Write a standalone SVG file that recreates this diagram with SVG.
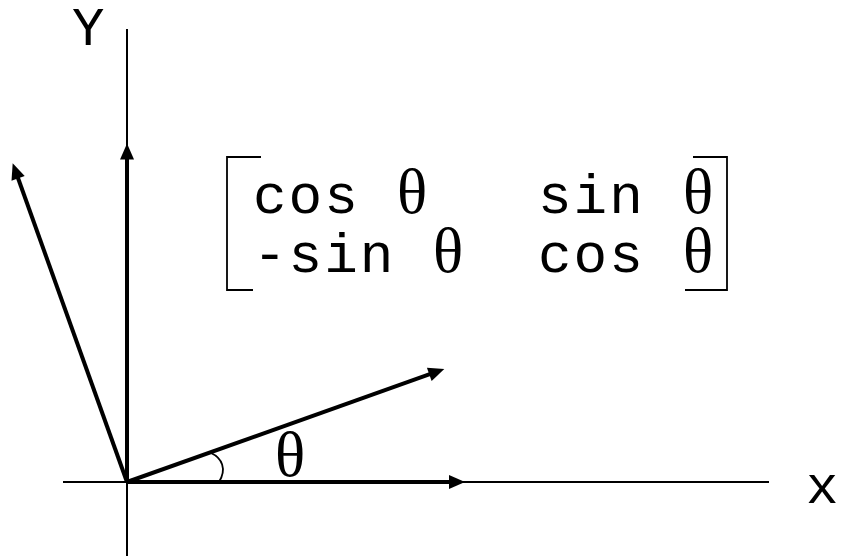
<svg xmlns="http://www.w3.org/2000/svg" width="843" height="556" viewBox="0 0 843 556">
  <style>
    .axis { stroke: #000; stroke-width: 2; fill: none; }
    .vec { stroke: #000; stroke-width: 4; fill: none; marker-end: url(#arrow); }
    .thin { stroke: #000; stroke-width: 1.8; fill: none; }
    .mono { font-family: "Liberation Mono", "Courier New", monospace; font-size: 56px; letter-spacing: 2px; fill: #000; }
    .lbl { font-family: "Liberation Mono", "Courier New", monospace; font-size: 54px; fill: #000; }
    .th { font-family: "Liberation Serif", "Times New Roman", serif; font-size: 63px; fill: #000; }
  </style>
  <defs>
    <marker id="arrow" markerUnits="userSpaceOnUse" markerWidth="16" markerHeight="14" refX="8" refY="7" orient="auto" overflow="visible">
      <path d="M0,0 L16,7 L0,14 Z" fill="#000"/>
    </marker>
  </defs>
  <rect width="843" height="556" fill="#fff"/>

  <g id="axes">
    <line class="axis" x1="127" y1="29" x2="127" y2="556"/>
    <line class="axis" x1="63" y1="482" x2="769" y2="482"/>
  </g>

  <g id="connectors">
    <line class="vec" x1="127" y1="482" x2="127" y2="151.5"/>
    <line class="vec" x1="127" y1="482" x2="457" y2="482"/>
    <line class="vec" x1="127" y1="482" x2="436.8" y2="371.7"/>
    <line class="vec" x1="127" y1="482" x2="15.4" y2="170.8"/>
    <path class="thin" d="M211,453 C222,458 227,469 219,482"/>
  </g>

  <g id="label-y"><text class="lbl" x="72" y="45">Y</text></g>
  <g id="label-x"><text class="lbl" x="806" y="503">x</text></g>
  <g id="label-theta"><text class="th" x="275" y="476">θ</text></g>

  <g id="matrix">
    <path class="thin" d="M261,157 L227,157 L227,290 L253,290"/>
    <path class="thin" d="M693,157 L727,157 L727,290 L685,290"/>
    <text class="mono" x="253" y="213">cos</text>
    <text class="th" x="397" y="213">θ</text>
    <text class="mono" x="538" y="213">sin</text>
    <text class="th" x="683" y="213">θ</text>
    <text class="mono" x="253" y="272">-sin</text>
    <text class="th" x="433" y="272">θ</text>
    <text class="mono" x="538" y="272">cos</text>
    <text class="th" x="683" y="272">θ</text>
  </g>
</svg>
